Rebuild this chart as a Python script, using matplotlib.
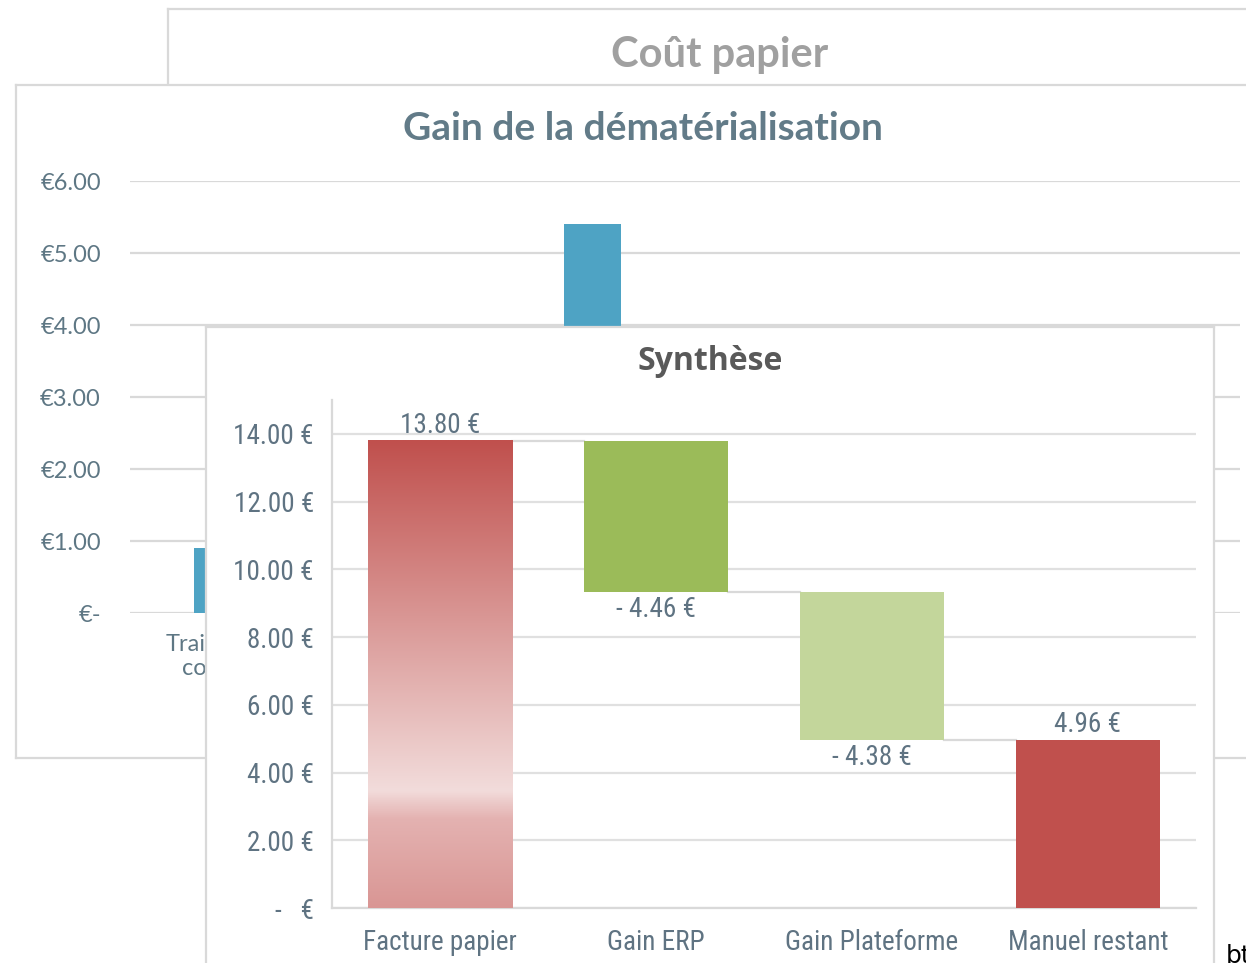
import numpy as np
import matplotlib
matplotlib.use("Agg")
import matplotlib.pyplot as plt
from matplotlib import font_manager
from matplotlib.colors import LinearSegmentedColormap
from matplotlib.ticker import FuncFormatter

# data
gain_categories = ["Traitement\ncourrier", "", "", "", "", ""]
gain_values = [0.90, np.nan, 5.40, np.nan, np.nan, np.nan]

synth_categories = ["Facture papier", "Gain ERP", "Gain Plateforme", "Manuel restant"]
synth_amounts = [13.80, -4.46, -4.38, 4.96]
synth_is_total = [True, False, False, True]
synth_colors = [None, "#9bbb59", "#c3d69b", "#c0504d"]

W, H = 1246, 963

installed = {f.name for f in font_manager.fontManager.ttflist}
narrow = "DejaVu Sans"
for name in ["Liberation Sans Narrow", "Roboto Condensed", "Open Sans Condensed", "DejaVu Sans Condensed"]:
    if name in installed:
        narrow = name
        break
title_font = "Lato" if "Lato" in installed else "DejaVu Sans"
synth_title_font = "Open Sans" if "Open Sans" in installed else "DejaVu Sans"


def box(x0, y0, x1, y1):
    # pixel box -> figure rect
    return [x0 / W, 1 - y1 / H, (x1 - x0) / W, (y1 - y0) / H]


def panel(rect, z):
    ax = fig.add_axes(box(*rect))
    ax.set_zorder(z)
    ax.set_facecolor("white")
    ax.set_xticks([])
    ax.set_yticks([])
    for s in ax.spines.values():
        s.set_color("#d9d9d9")
        s.set_linewidth(1.6)
    return ax


fig = plt.figure(figsize=(W / 100, H / 100), dpi=100)
fig.patch.set_facecolor("white")

# back panel
back = panel((168, 9, 1300, 700), 1)
back.text(720 / W, 1 - 55 / H, "Coût papier", transform=fig.transFigure, ha="center", va="center",
          fontsize=30, fontweight="bold", color="#a0a0a0", family=title_font)

# middle panel
mid = panel((16, 85, 1300, 758), 2)
mid.text(643 / W, 1 - 128 / H, "Gain de la dématérialisation", transform=fig.transFigure, ha="center",
         va="center", fontsize=28, fontweight="bold", color="#627b88", family=title_font)

ax1 = fig.add_axes(box(130, 181, 1240, 613))
ax1.set_zorder(3)
ax1.patch.set_alpha(0)
x1 = np.arange(len(gain_values))
ax1.bar(x1, gain_values, width=0.31, color="#4ea3c4", zorder=3)
ax1.set_xlim(-0.5, len(gain_values) - 0.5)
ax1.set_ylim(0, 6)
ax1.set_yticks(np.arange(0, 7, 1))
ax1.yaxis.set_major_formatter(FuncFormatter(lambda v, p: "€-" if v == 0 else "€%.2f" % v))
ax1.set_xticks(x1)
ax1.set_xticklabels(gain_categories)
ax1.tick_params(length=0, labelsize=17, labelcolor="#5e7784")
ax1.tick_params(axis="y", pad=21)
ax1.tick_params(axis="x", pad=15)
for lab in ax1.get_xticklabels() + ax1.get_yticklabels():
    lab.set_family(title_font)
ax1.grid(axis="y", color="#d9d9d9", linewidth=1.6, zorder=0)
ax1.set_axisbelow(True)
for s in ax1.spines.values():
    s.set_visible(False)

# front panel
front = panel((206, 327, 1214, 1000), 4)
front.text(710 / W, 1 - 362 / H, "Synthèse", transform=fig.transFigure, ha="center", va="center",
           fontsize=23, fontweight="bold", color="#595959", family=synth_title_font)

ax2 = fig.add_axes(box(332, 400, 1196, 908))
ax2.set_zorder(5)
ax2.patch.set_alpha(0)
ax2.set_xlim(-0.5, len(synth_amounts) - 0.5)
ax2.set_ylim(0, 15)

bw = 0.667
lab_color = "#5f7382"
running = 0.0
levels = []
for i, (amt, tot) in enumerate(zip(synth_amounts, synth_is_total)):
    if tot:
        bottom, height = 0.0, amt
        running = amt
    else:
        bottom, height = running + amt, -amt
        running = running + amt
    levels.append(running)
    if synth_colors[i] is None:
        cmap = LinearSegmentedColormap.from_list(
            "paper", [(0.0, "#d99694"), (0.19, "#e4b2b1"), (0.25, "#f2dcdb"), (1.0, "#c0504d")])
        grad = np.linspace(0, 1, 256).reshape(-1, 1)
        ax2.imshow(grad, cmap=cmap, origin="lower", aspect="auto",
                   extent=[i - bw / 2, i + bw / 2, bottom, bottom + height], zorder=3)
    else:
        ax2.bar(i, height, bottom=bottom, width=bw, color=synth_colors[i], zorder=3)
    if tot:
        ax2.text(i, bottom + height + 0.05, "%.2f €" % amt, ha="center", va="bottom",
                 fontsize=19.5, color=lab_color, family=narrow, zorder=6)
    else:
        ax2.text(i, bottom - 0.12, "- %.2f €" % (-amt), ha="center", va="top",
                 fontsize=19.5, color=lab_color, family=narrow, zorder=6)

# connectors between bars
for i in range(len(levels) - 1):
    ax2.plot([i + bw / 2, i + 1 - bw / 2], [levels[i], levels[i]], color="#d9d9d9", lw=1.6, zorder=2)

ax2.set_xlim(-0.5, len(synth_amounts) - 0.5)
ax2.set_ylim(0, 15)
ax2.set_yticks(np.arange(0, 15, 2))
ax2.yaxis.set_major_formatter(FuncFormatter(lambda v, p: "-   €" if v == 0 else "%.2f €" % v))
ax2.set_xticks(np.arange(len(synth_categories)))
ax2.set_xticklabels(synth_categories)
ax2.tick_params(length=0, labelsize=19.5, labelcolor=lab_color)
ax2.tick_params(axis="y", pad=13)
ax2.tick_params(axis="x", pad=15)
for lab in ax2.get_xticklabels() + ax2.get_yticklabels():
    lab.set_family(narrow)
ax2.grid(axis="y", color="#e0e0e0", linewidth=1.6, zorder=0)
ax2.set_axisbelow(True)
for k in ["top", "right"]:
    ax2.spines[k].set_visible(False)
for k in ["left", "bottom"]:
    ax2.spines[k].set_color("#d9d9d9")
    ax2.spines[k].set_linewidth(1.6)

fig.text(1226 / W, 1 - 944 / H, "bt", ha="left", va="top", fontsize=18, color="black", zorder=10)

fig.savefig("out.png", dpi=100)
